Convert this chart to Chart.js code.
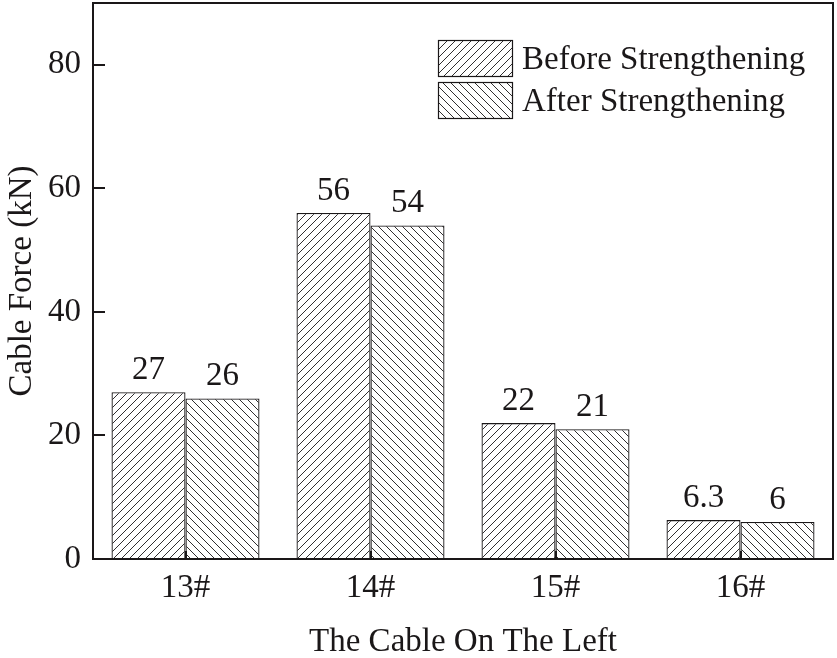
<!DOCTYPE html>
<html>
<head>
<meta charset="utf-8">
<script src="https://cdn.jsdelivr.net/npm/chart.js@4.4.1/dist/chart.umd.min.js"></script>
<style>
  html, body { margin: 0; padding: 0; background: #fff; }
  #wrap { width: 837px; height: 658px; }
</style>
</head>
<body>
<div id="wrap"><canvas id="cable-chart" width="837" height="658"></canvas></div>
<script>
// values
const cables = ['13#', '14#', '15#', '16#'];
const beforeValues = [27, 56, 22, 6.3];
const afterValues = [26, 54, 21, 6];
const beforeLabels = ['27', '56', '22', '6.3'];
const afterLabels = ['26', '54', '21', '6'];
const seriesNames = ['Before Strengthening', 'After Strengthening'];

const FONT = '"Liberation Serif", "Times New Roman", serif';
const SIZE = 33;
const INK = '#1a1718';

// diagonal hatch tiles: dir 1 = "/", dir -1 = "\"
function hatch(dir) {
    let c = document.createElement('canvas');
    c.width = 8;
    c.height = 8;
    let g = c.getContext('2d');
    g.fillStyle = '#fff';
    g.fillRect(0, 0, 8, 8);
    g.strokeStyle = INK;
    g.lineWidth = 0.9;
    g.beginPath();
    if (dir > 0) {
        g.moveTo(-1, 9); g.lineTo(9, -1);
        g.moveTo(-1, 1); g.lineTo(1, -1);
        g.moveTo(7, 9); g.lineTo(9, 7);
    } else {
        g.moveTo(-1, -1); g.lineTo(9, 9);
        g.moveTo(-1, 7); g.lineTo(1, 9);
        g.moveTo(7, -1); g.lineTo(9, 1);
    }
    g.stroke();
    return g.createPattern(c, 'repeat');
}
const patBefore = hatch(1);
const patAfter = hatch(-1);

// box, inward ticks, value labels and legend
const decorations = {
    id: 'decorations',
    afterDatasetsDraw(chart) {
        const ctx = chart.ctx;
        const a = chart.chartArea;
        const y = chart.scales.y;
        const x = chart.scales.x;
        ctx.save();

        // value labels over the bars
        ctx.fillStyle = INK;
        ctx.font = SIZE + 'px ' + FONT;
        ctx.textAlign = 'center';
        ctx.textBaseline = 'alphabetic';
        [beforeLabels, afterLabels].forEach(function (labels, di) {
            chart.getDatasetMeta(di).data.forEach(function (bar, i) {
                ctx.fillText(labels[i], bar.x, bar.y - 13);
            });
        });

        // frame
        ctx.strokeStyle = INK;
        ctx.lineWidth = 2;
        ctx.strokeRect(a.left, a.top, a.right - a.left, a.bottom - a.top);

        // inward ticks
        ctx.beginPath();
        y.ticks.forEach(function (t) {
            let py = Math.round(y.getPixelForValue(t.value));
            ctx.moveTo(a.left, py);
            ctx.lineTo(a.left + 12, py);
        });
        x.ticks.forEach(function (t, i) {
            let px = Math.round(x.getPixelForTick(i));
            ctx.moveTo(px, a.bottom);
            ctx.lineTo(px, a.bottom - 8);
        });
        ctx.stroke();

        // legend
        let lx = a.right - 395;
        let ly = a.top + 37;
        [patBefore, patAfter].forEach(function (pat, i) {
            let by = ly + i * 42;
            ctx.fillStyle = pat;
            ctx.fillRect(lx, by, 74, 36);
            ctx.lineWidth = 1.2;
            ctx.strokeStyle = INK;
            ctx.strokeRect(lx + 0.5, by + 0.5, 74, 36);
            ctx.fillStyle = INK;
            ctx.textAlign = 'left';
            ctx.textBaseline = 'middle';
            ctx.font = SIZE + 'px ' + FONT;
            ctx.fillText(seriesNames[i], lx + 84, by + 20);
        });

        ctx.restore();
    }
};

const ctx = document.getElementById('cable-chart').getContext('2d');
const chart = new Chart(ctx, {
    type: 'bar',
    data: {
        labels: cables,
        datasets: [{
            label: seriesNames[0],
            data: beforeValues,
            backgroundColor: patBefore,
            borderColor: INK,
            borderWidth: 1.3
        }, {
            label: seriesNames[1],
            data: afterValues,
            backgroundColor: patAfter,
            borderColor: INK,
            borderWidth: 1.3
        }]
    },
    options: {
        responsive: false,
        animation: false,
        devicePixelRatio: 1,
        layout: { padding: { top: 3, right: 4, bottom: 0, left: 0 } },
        datasets: {
            bar: { categoryPercentage: 0.8, barPercentage: 1.0 }
        },
        plugins: {
            legend: { display: false },
            tooltip: { enabled: false }
        },
        scales: {
            x: {
                grid: { display: false, drawTicks: false },
                border: { display: false },
                ticks: {
                    color: INK,
                    font: { family: FONT, size: SIZE },
                    padding: 10
                },
                title: {
                    display: true,
                    text: 'The Cable On The Left',
                    color: INK,
                    font: { family: FONT, size: SIZE },
                    padding: { top: 0, bottom: -4 }
                },
                afterFit: function (scale) {
                    scale.height = 99;
                    scale.paddingLeft = 0;
                    scale.paddingRight = 0;
                }
            },
            y: {
                min: 0,
                max: 90,
                grid: { display: false, drawTicks: false },
                border: { display: false },
                ticks: {
                    stepSize: 20,
                    color: INK,
                    font: { family: FONT, size: SIZE },
                    padding: 12
                },
                afterBuildTicks: function (scale) {
                    scale.ticks = scale.ticks.filter(function (t) { return t.value % 20 === 0; });
                },
                title: {
                    display: true,
                    text: 'Cable Force (kN)',
                    color: INK,
                    font: { family: FONT, size: SIZE },
                    padding: { top: 3, bottom: 0 }
                },
                afterFit: function (scale) {
                    scale.width = 93;
                    scale.paddingTop = 0;
                    scale.paddingBottom = 0;
                }
            }
        }
    },
    plugins: [decorations]
});
</script>
</body>
</html>
